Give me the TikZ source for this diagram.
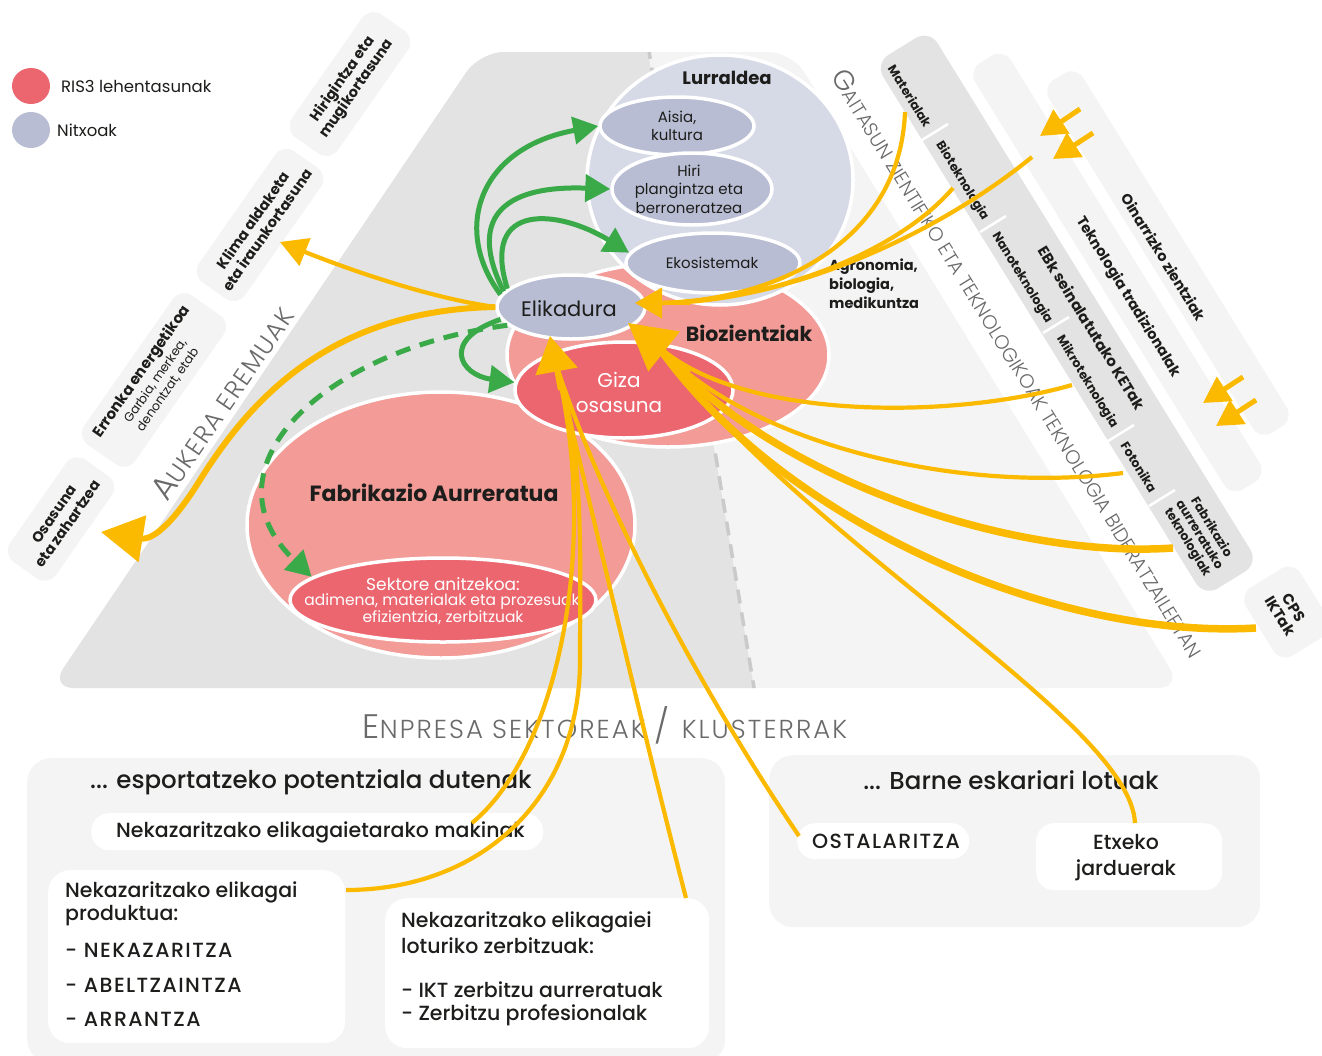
\documentclass[tikz,border=0pt]{standalone}
\usepackage{fontspec}
\setmainfont{Poppins}
\IfFontExistsTF{Poppins Medium}{\newfontfamily\medf{Poppins Medium}}{\newfontfamily\medf{Poppins}[FakeBold=0.6]}
\IfFontExistsTF{Poppins Light}{\newfontfamily\litef{Poppins Light}[LetterSpace=6]}{\newfontfamily\litef{Poppins}[LetterSpace=6]}
\usetikzlibrary{shapes.geometric,arrows.meta}
\definecolor{ygold}{HTML}{FBBA00}
\definecolor{ggreen}{HTML}{3AAA49}
\definecolor{rred}{HTML}{EC6670}
\definecolor{lred}{HTML}{F29B97}
\definecolor{nblue}{HTML}{B8BDD3}
\definecolor{lblue}{HTML}{D6D9E6}
\definecolor{bgdark}{HTML}{E3E3E3}
\definecolor{bglight}{HTML}{F4F4F4}
\definecolor{txtgray}{HTML}{6A6A6A}
\definecolor{txtdark}{HTML}{1D1D1B}
\definecolor{dashgray}{HTML}{CACACA}
\newcommand\fz[2]{\fontsize{#1pt}{#2pt}\selectfont}
\tikzset{
  ell/.style={ellipse, draw=white, line width=3.5pt, inner sep=0pt},
  lbox/.style={fill=bglight, rounded corners=14pt, rotate=55, align=center, inner sep=0pt, font=\fz{14.5}{17}\bfseries, text=txtdark},
  bandbox/.style={rotate=-58.3, inner sep=0pt},
  btxt/.style={rotate=-58.3, inner sep=0pt, text=txtdark, font=\fz{12.5}{14}\bfseries},
  btxtl/.style={rotate=-58.3, inner sep=0pt, text=txtdark, font=\fz{14.5}{16}\bfseries},
  sepline/.style={draw=white, line width=2.5pt},
  wbox/.style={fill=white, rounded corners=18pt, inner sep=0pt, anchor=north west},
  cbox/.style={fill=bglight, rounded corners=24pt, inner sep=0pt, anchor=north west},
  btext/.style={anchor=west, inner sep=0pt, text=txtdark, font=\medf\fz{20.5}{24}},
  ctext/.style={anchor=west, inner sep=0pt, text=txtdark, font=\medf\fz{20.5}{24}\addfontfeature{LetterSpace=7}},
  etext/.style={inner sep=0pt, align=center, text=txtdark},
  gar/.style={draw=ggreen, line width=5pt, -{Triangle[length=25pt,width=27pt]}},
  yl/.style={draw=ygold, line width=4.2pt},
  ylw/.style={draw=ygold, line width=7.5pt},
  ytip/.style={draw=ygold, line width=5pt, -{Triangle[length=26pt,width=28pt]}},
  bigtxt/.style={text=txtgray, inner sep=0pt}
}
\begin{document}
\begin{tikzpicture}[x=1pt,y=-1pt]
\useasboundingbox (0,0) rectangle (1322,1055);

% ---------- background regions
\begin{scope}
\clip[rounded corners=24pt] (50,688) -- (480,52) -- (792,52) -- (1182,688) -- cycle;
\fill[bglight] (0,0) rectangle (1322,720);
\fill[bgdark] (0,0) -- (639.3,0) -- (759.3,720) -- (0,720) -- cycle;
\draw[dashgray, line width=3.5pt, dash pattern=on 14pt off 9pt] (648,45) -- (756,700);
\end{scope}

% ---------- legend
\node[ell, draw=none, fill=rred, minimum width=38pt, minimum height=36pt] (lgr) at (31,86) {};
\node[anchor=west, inner sep=0pt, text=txtdark, font=\fz{16.5}{20}] (lgrt) at (61,86) {RIS3 lehentasunak};
\node[ell, draw=none, fill=nblue, minimum width=38pt, minimum height=36pt] (lgb) at (31,130) {};
\node[anchor=west, inner sep=0pt, text=txtdark, font=\fz{16.5}{20}] (lgbt) at (57,130) {Nitxoak};

% ---------- left challenge boxes
\node[lbox, minimum width=150pt, minimum height=56pt] (bxhm) at (350,84) {Hirigintza eta\\mugikortasuna};
\node[lbox, minimum width=160pt, minimum height=56pt] (bxkl) at (260,225) {Klima aldaketa\\eta iraunkortasuna};
\node[lbox, minimum width=182pt, minimum height=62pt] (bxer) at (154,380) {\fz{15}{17}Erronka energetikoa\\[-1pt]{\fz{12.5}{14}\mdseries Garbia, merkea,}\\[-2pt]{\fz{12.5}{14}\mdseries denontzat, etab}};
\node[lbox, minimum width=125pt, minimum height=56pt] (bxos) at (61,519) {Osasuna\\eta zahartzea};
\node[bigtxt, rotate=55.5] (aukera) at (222,403) {\litef\fz{33}{33}A\fz{25}{25}UKERA EREMUAK};

% ---------- right bands
\node[bandbox, fill=bgdark, rounded corners=16pt, minimum width=627pt, minimum height=64pt] (kband) at (1066.75,313.2) {};
\node[bandbox, fill=bglight, rounded corners=14pt, minimum width=501pt, minimum height=42pt] (tband) at (1117.4,272.5) {};
\node[bandbox, fill=bglight, rounded corners=14pt, minimum width=415pt, minimum height=40pt] (oband) at (1168,253) {};
\draw[sepline] (922,140) -- ++(26,-16);
\draw[sepline] (980,232) -- ++(26,-16);
\draw[sepline] (1043,333) -- ++(26,-16);
\draw[sepline] (1108,441) -- ++(26,-16);
\draw[sepline] (1149,506) -- ++(26,-16);
\node[btxt] (tmat) at (910,96) {Materialak};
\node[btxt] (tbio) at (962,181) {Bioteknologia};
\node[btxt] (tnano) at (1022,278) {Nanoteknologia};
\node[btxt] (tmikro) at (1087,382) {Mikroteknologia};
\node[btxt] (tfoto) at (1139,467) {Fotonika};
\node[btxt, align=center] (tfab) at (1199,535) {Fabrikazio\\aurreratuko\\teknologiak};
\node[btxtl, font=\fz{15}{17}\bfseries] (tebk) at (1092,328) {EBk seinalatutako KETak};
\node[btxtl] (ttek) at (1128,297) {Teknologia tradizionalak};
\node[btxtl] (toin) at (1164,257) {Oinarrizko zientziak};
\node[bandbox, fill=bglight, rounded corners=14pt, minimum width=80pt, minimum height=64pt, align=center, text=txtdark, font=\fz{15}{16}\bfseries] (cps) at (1287,612) {CPS\\IKTak};
\node[bigtxt, rotate=-58.3] (gait) at (1019,363) {\litef\addfontfeature{LetterSpace=0}\fz{28}{28}G\fz{19.5}{19.5}AITASUN ZIENTIFIKO ETA TEKNOLOGIKOAK TEKNOLOGIA BIDERATZAILEETAN};

% ---------- ellipses
\node[ell, fill=lred, minimum width=388pt, minimum height=266pt] (fab) at (441,525) {};
\node[ell, fill=rred, minimum width=306pt, minimum height=84pt] (sek) at (443,600) {};
\node[etext, text=white, font=\fz{17}{17}] (sek1) at (443,584) {Sektore anitzekoa:};
\node[etext, text=white, font=\fz{15.5}{16}] (sek2) at (442,602) {adimena, materialak eta prozesuak};
\node[etext, text=white, font=\fz{15.5}{16}] (sek3) at (443,618) {efizientzia, zerbitzuak};
\node[etext, font=\fz{22}{24}\bfseries] (fabt) at (434,493) {Fabrikazio Aurreratua};
\node[ell, fill=lred, minimum width=322pt, minimum height=184pt] (bio) at (668,355) {};
\node[ell, fill=lblue, minimum width=266pt, minimum height=250pt] (lur) at (720,180) {};
\node[etext, font=\fz{18}{20}\bfseries] (lurt) at (727,78) {Lurraldea};
\node[ell, fill=rred, minimum width=218pt, minimum height=96pt] (giza) at (624,390) {};
\node[etext, text=white, font=\fz{20}{25}] (gizat) at (619,392) {Giza\\osasuna};
\node[etext, font=\fz{20.5}{22}\bfseries] (biot) at (749,333) {Biozientziak};
\node[ell, fill=nblue, minimum width=148pt, minimum height=64pt] (elik) at (571,307) {};
\node[etext, font=\fz{21}{24}] (elikt) at (569,309) {Elikadura};
\node[ell, fill=nblue, minimum width=154pt, minimum height=58pt] (ais) at (677,126) {};
\node[etext, font=\fz{15}{18.5}] (aist) at (677,126) {Aisia,\\kultura};
\node[ell, fill=nblue, minimum width=160pt, minimum height=72pt] (hiri) at (692,189) {};
\node[etext, font=\fz{15}{18.5}] (hirit) at (689,189) {Hiri\\plangintza eta\\berroneratzea};
\node[ell, fill=nblue, minimum width=174pt, minimum height=60pt] (eko) at (713,263) {};
\node[etext, font=\fz{15}{18}] (ekot) at (712,263) {Ekosistemak};
\node[anchor=north west, align=left, inner sep=0pt, text=txtdark, font=\fz{14.5}{19}\bfseries] (agro) at (829,259) {Agronomia,\\biologia,\\medikuntza};

% ---------- section label
\node[bigtxt] (enpr) at (605,725) {\litef\addfontfeature{LetterSpace=8}\fz{34}{34}E\fz{26}{26}NPRESA SEKTOREAK \fz{34}{34}/ \fz{26}{26}KLUSTERRAK};

% ---------- bottom boxes
\node[cbox, minimum width=698pt, minimum height=305pt] (cexp) at (27,758) {};
\node[cbox, minimum width=491pt, minimum height=172pt] (cbar) at (769,755) {};
\node[anchor=west, inner sep=0pt, text=txtdark, font=\medf\fz{24.5}{28}] (texp) at (90,782) {... esportatzeko potentziala dutenak};
\node[inner sep=0pt, text=txtdark, font=\medf\fz{24.5}{28}] (tbar) at (1011,780) {... Barne eskariari lotuak};
\node[wbox, minimum width=452pt, minimum height=37pt] (mak) at (91,813) {};
\node[btext] (makt) at (116,832) {Nekazaritzako elikagaietarako makinak};
\node[wbox, rounded corners=22pt, minimum width=297pt, minimum height=173pt] (prod) at (48,870) {};
\node[btext] (p1) at (65,892) {Nekazaritzako elikagai};
\node[btext] (p2) at (65,916) {produktua:};
\node[ctext] (p3) at (65,950) {- NEKAZARITZA};
\node[ctext] (p4) at (65,985) {- ABELTZAINTZA};
\node[ctext] (p5) at (65,1019) {- ARRANTZA};
\node[wbox, rounded corners=22pt, minimum width=324pt, minimum height=150pt] (serv) at (385,898) {};
\node[btext] (s1) at (401,922) {Nekazaritzako elikagaiei};
\node[btext] (s2) at (401,946) {loturiko zerbitzuak:};
\node[btext] (s3) at (401,990) {- IKT zerbitzu aurreratuak};
\node[btext] (s4) at (401,1015) {- Zerbitzu profesionalak};
\node[wbox, minimum width=172pt, minimum height=36pt] (ost) at (797,823) {};
\node[etext, font=\medf\fz{20.5}{24}\addfontfeature{LetterSpace=7}] (ostt) at (886,841) {OSTALARITZA};
\node[wbox, minimum width=186pt, minimum height=67pt] (etx) at (1036,823) {};
\node[etext, font=\medf\fz{20.5}{26}] (etxt) at (1126,858) {Etxeko\\jarduerak};

% ---------- green arrows
\draw[gar] (elik.170) .. controls (452,230) and (478,148) .. (ais.west);
\draw[gar] (elik.167) .. controls (468,220) and (500,185) .. (hiri.west);
\draw[gar] (elik.164) .. controls (480,200) and (560,210) .. (eko.173);
\draw[gar] (elik.190) .. controls (440,340) and (460,375) .. (giza.176);
\draw[gar, dash pattern=on 15pt off 10pt] (elik.196) .. controls (320,350) and (200,470) .. (sek.170);

% ---------- yellow coordinates
\coordinate (sMat) at (905,112);
\coordinate (sBio) at (953,188);
\coordinate (sTop) at (1032,157);
\coordinate (sMik) at (1072,385);
\coordinate (sFot) at (1123,473);
\coordinate (sFab) at (1173,548);
\coordinate (sCps) at (1256,628);
\coordinate (sEtx) at (1135,823);
\coordinate (sOst) at (799,836);
\coordinate (sSrv) at (686,898);
\coordinate (sMak) at (472,823);
\coordinate (sPrd) at (346,890);
\coordinate (mR) at (660,303);
\coordinate (mBR) at (658,346);
\coordinate (mB) at (556,364);
\coordinate (hRb) at (690,303);
\coordinate (hRt) at (635,303);
\coordinate (hBRb) at (690,372);
\coordinate (hBRt) at (628,323);
\coordinate (hBb) at (560,390);
\coordinate (hBt) at (550,336);
\coordinate (tKl) at (280,242);
\coordinate (tOs) at (101,532);
\coordinate (a1s) at (1080,109);
\coordinate (a1t) at (1040,136);
\coordinate (a2s) at (1093,133);
\coordinate (a2t) at (1053,159);
\coordinate (a3s) at (1243,377);
\coordinate (a3t) at (1203,403);
\coordinate (a4s) at (1256,400);
\coordinate (a4t) at (1216,426);

% ---------- yellow connectors
\draw[yl] (sMat) .. controls (900,240) and (780,300) .. (mR);
\draw[yl] (sBio) .. controls (900,250) and (780,300) .. (mR);
\draw[yl] (sTop) .. controls (930,240) and (780,303) .. (mR);
\draw[yl, -{Triangle[length=27pt,width=30pt]}] (hRb) -- (hRt);

\draw[yl] (sMik) .. controls (950,420) and (740,420) .. (mBR);
\draw[yl] (sFot) .. controls (950,495) and (745,440) .. (mBR);
\draw[ylw] (sFab) .. controls (1000,560) and (760,470) .. (mBR);
\draw[ylw] (sCps) .. controls (1050,640) and (780,520) .. (mBR);
\draw[yl] (sEtx) .. controls (1130,720) and (800,540) .. (mBR);
\draw[yl, -{Triangle[length=46pt,width=50pt]}] (hBRb) -- (hBRt);

\draw[yl] (sMak) .. controls (560,750) and (600,540) .. (mB);
\draw[yl] (sPrd) .. controls (480,890) and (580,800) .. (580,660) .. controls (580,560) and (585,450) .. (mB);
\draw[yl] (sSrv) .. controls (640,720) and (590,500) .. (mB);
\draw[yl] (sOst) .. controls (700,690) and (600,500) .. (mB);
\draw[yl, -{Triangle[length=36pt,width=42pt]}] (hBb) -- (hBt);

\draw[yl, -{Triangle[length=27pt,width=29pt]}] (elik.west) .. controls (430,298) and (350,270) .. (tKl);
\draw[draw=ygold, line width=6pt, -{Triangle[length=42pt,width=46pt]}] (elik.west) .. controls (330,310) and (250,400) .. (200,480) .. controls (169,530) and (150,540) .. (tOs);

\draw[ytip] (a1s) -- (a1t);
\draw[ytip] (a2s) -- (a2t);
\draw[ytip] (a3s) -- (a3t);
\draw[ytip] (a4s) -- (a4t);
\end{tikzpicture}
\end{document}
